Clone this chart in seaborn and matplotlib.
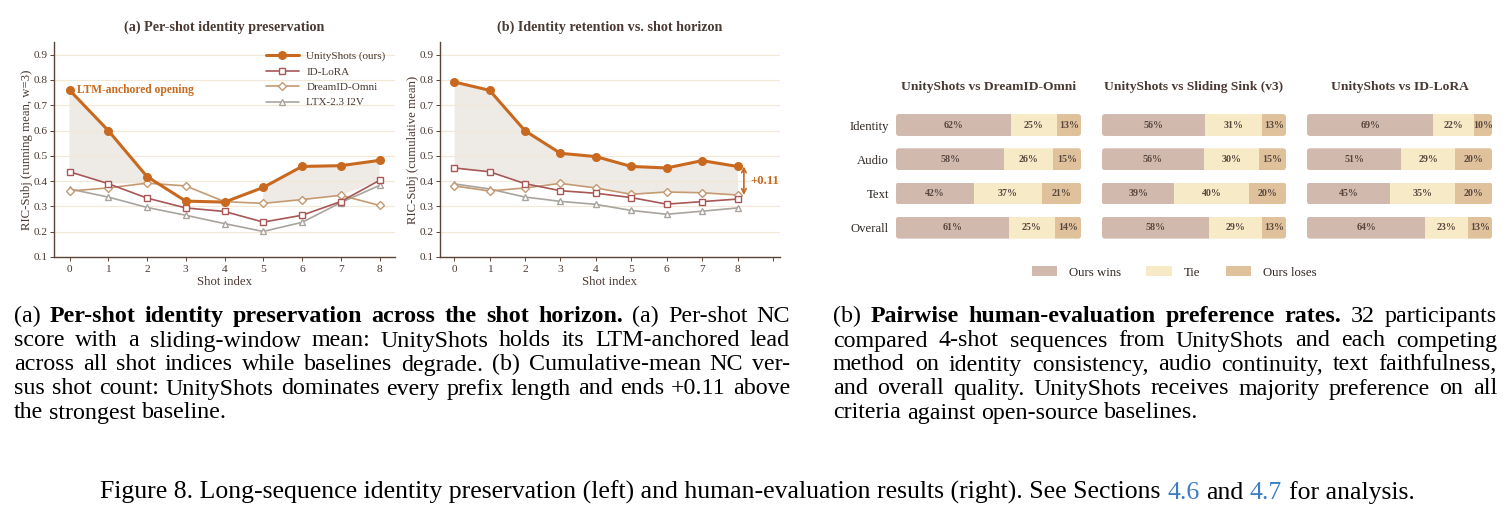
import numpy as np
import matplotlib
matplotlib.use("Agg")
import matplotlib.pyplot as plt
from matplotlib.patches import FancyBboxPatch, Patch
import seaborn as sns

# ---------------- data ----------------
shots = [0, 1, 2, 3, 4, 5, 6, 7, 8]
series_names = ["UnityShots (ours)", "ID-LoRA", "DreamID-Omni", "LTX-2.3 I2V"]

# (a) per-shot running mean
unity_run = [0.760, 0.600, 0.418, 0.321, 0.317, 0.375, 0.458, 0.461, 0.482]
idlora_run = [0.437, 0.390, 0.333, 0.294, 0.280, 0.238, 0.265, 0.319, 0.403]
dream_run = [0.361, 0.373, 0.392, 0.381, 0.319, 0.312, 0.327, 0.344, 0.304]
ltx_run = [0.369, 0.337, 0.296, 0.265, 0.232, 0.201, 0.237, 0.315, 0.383]

# (b) cumulative mean
unity_cum = [0.792, 0.759, 0.599, 0.510, 0.497, 0.458, 0.452, 0.481, 0.458]
idlora_cum = [0.452, 0.437, 0.390, 0.362, 0.352, 0.335, 0.309, 0.319, 0.329]
dream_cum = [0.381, 0.361, 0.373, 0.391, 0.373, 0.348, 0.357, 0.354, 0.345]
ltx_cum = [0.389, 0.369, 0.337, 0.320, 0.308, 0.284, 0.269, 0.281, 0.294]

y_ticks = [0.1, 0.2, 0.3, 0.4, 0.5, 0.6, 0.7, 0.8, 0.9]

# human evaluation
comparisons = ["UnityShots vs DreamID-Omni", "UnityShots vs Sliding Sink (v3)", "UnityShots vs ID-LoRA"]
criteria = ["Identity", "Audio", "Text", "Overall"]
wins = [[62, 58, 42, 61], [56, 56, 39, 58], [69, 51, 45, 64]]
ties = [[25, 26, 37, 25], [31, 30, 40, 29], [22, 29, 35, 23]]
loses = [[13, 15, 21, 14], [13, 15, 20, 13], [10, 20, 20, 13]]
outcome_names = ["Ours wins", "Tie", "Ours loses"]

# captions
cap_a = [
    [("(a)", "normal"), ("Per-shot identity preservation across the shot horizon.", "bold"), ("(a) Per-shot NC", "normal")],
    [("score with a sliding-window mean: UnityShots holds its LTM-anchored lead", "normal")],
    [("across all shot indices while baselines degrade. (b) Cumulative-mean NC ver-", "normal")],
    [("sus shot count: UnityShots dominates every prefix length and ends +0.11 above", "normal")],
    [("the strongest baseline.", "normal")],
]
cap_b = [
    [("(b)", "normal"), ("Pairwise human-evaluation preference rates.", "bold"), ("32 participants", "normal")],
    [("compared 4-shot sequences from UnityShots and each competing", "normal")],
    [("method on identity consistency, audio continuity, text faithfulness,", "normal")],
    [("and overall quality. UnityShots receives majority preference on all", "normal")],
    [("criteria against open-source baselines.", "normal")],
]
fig_caption = [("Figure 8. Long-sequence identity preservation (left) and human-evaluation results (right). See Sections", "#000000"),
               ("4.6", "#3b7dc4"), ("and", "#000000"), ("4.7", "#3b7dc4"), ("for analysis.", "#000000")]

# ---------------- style ----------------
sns.set_theme(style="white")
SERIF = "Liberation Serif"
plt.rcParams["font.family"] = [SERIF, "DejaVu Serif"]

ORANGE = "#c8691f"
RED = "#a85656"
TAN = "#c49a72"
GRAY = "#a9a49e"
SPINE = "#5a4438"
TXT = "#4a3a33"
GRID = "#f1e8d6"
FILL = "#eeeae6"
C_WIN, C_TIE, C_LOSE = "#d1b9ae", "#f6eac7", "#dfc19c"

W_PX, H_PX = 1511, 520
fig = plt.figure(figsize=(W_PX / 100, H_PX / 100), dpi=100)


def frac_box(x0, y0, x1, y1):
    return [x0 / W_PX, 1 - y1 / H_PX, (x1 - x0) / W_PX, (y1 - y0) / H_PX]


ax_a = fig.add_axes(frac_box(54, 42, 395, 257))
ax_b = fig.add_axes(frac_box(440, 42, 780, 257))

colors = [ORANGE, RED, TAN, GRAY]
markers = ["o", "s", "D", "^"]


def line_panel(ax, data, title, ylabel):
    for i, (name, vals) in enumerate(zip(series_names, data)):
        if i == 0:
            sns.lineplot(x=shots, y=vals, ax=ax, color=colors[i], lw=2.2, marker="o", ms=6.5,
                         mfc=colors[i], mec=colors[i], mew=0, zorder=5, label=name)
        else:
            sns.lineplot(x=shots, y=vals, ax=ax, color=colors[i], lw=1.2, marker=markers[i],
                         ms=4.8 if markers[i] != "D" else 4.4, mfc="white", mec=colors[i], mew=1.0,
                         zorder=4 - i * 0.1, label=name)
    top = np.array(data[0])
    base = np.max(np.array(data[1:]), axis=0)
    ax.fill_between(shots, top, base, where=top >= base, color=FILL, lw=0, zorder=0.5)
    ax.set_ylim(0.1, 0.95)
    ax.set_yticks(y_ticks)
    ax.set_yticklabels([f"{t:.1f}" for t in y_ticks])
    ax.grid(axis="y", color=GRID, lw=0.8, zorder=0)
    ax.grid(axis="x", visible=False)
    for s in ["top", "right"]:
        ax.spines[s].set_visible(False)
    for s in ["left", "bottom"]:
        ax.spines[s].set_color(SPINE)
        ax.spines[s].set_linewidth(1.0)
    ax.tick_params(axis="both", length=3, width=0.7, color=SPINE, labelcolor=TXT, labelsize=8.2,
                   direction="out", pad=2.5, bottom=True, left=True)
    ax.tick_params(axis="y", pad=1.5)
    ax.set_xlabel("Shot index", fontsize=9.2, color=TXT, labelpad=2)
    ax.set_ylabel(ylabel, fontsize=9.2, color=TXT)
    ax.yaxis.set_label_coords(-0.062, 0.5)
    ax.set_title(title, fontsize=10.2, fontweight="bold", color=TXT, pad=8)
    ax.set_axisbelow(True)


line_panel(ax_a, [unity_run, idlora_run, dream_run, ltx_run],
           "(a) Per-shot identity preservation", "RIC-Subj (running mean, w=3)")
ax_a.set_xlim(-0.4, 8.4)
ax_a.set_xticks(shots)
ax_a.text(0.2, unity_run[0], "LTM-anchored opening", color=ORANGE, fontsize=8.3, fontweight="bold",
          va="center", ha="left")
leg = ax_a.legend(loc="upper right", bbox_to_anchor=(1.0, 1.0), frameon=False, fontsize=8.0,
                  handlelength=2.9, labelspacing=0.5, borderaxespad=0.45, handletextpad=0.7)
for t in leg.get_texts():
    t.set_color(TXT)

line_panel(ax_b, [unity_cum, idlora_cum, dream_cum, ltx_cum],
           "(b) Identity retention vs. shot horizon", "RIC-Subj (cumulative mean)")
ax_b.get_legend().remove()
ax_b.set_xlim(-0.4, 9.2)
ax_b.set_xticks(shots + [9])
ax_b.set_xticklabels([str(s) for s in shots] + [""])
gap_top = unity_cum[-1]
gap_bot = max(idlora_cum[-1], dream_cum[-1], ltx_cum[-1])
ax_b.annotate("", xy=(8.18, gap_bot), xytext=(8.18, gap_top),
              arrowprops=dict(arrowstyle="<->", color=ORANGE, lw=1.2, shrinkA=0, shrinkB=0,
                              mutation_scale=8))
ax_b.text(8.36, (gap_top + gap_bot) / 2, f"+{gap_top - gap_bot:.2f}", color=ORANGE, fontsize=9.2,
          fontweight="bold", va="center", ha="left")

# ---------------- bar panels ----------------
bar_x = [(896, 1081), (1102, 1286), (1307, 1492)]
bar_h = 0.64
for p, (x0, x1) in enumerate(bar_x):
    ax = fig.add_axes(frac_box(x0, 107.9, x1, 244.8))
    ax.set_xlim(0, 100)
    ax.set_ylim(3.5, -0.5)
    px_x = 100 / (x1 - x0)
    px_y = 4 / (244.8 - 107.9)
    r = 3.2 * px_x
    for i, crit in enumerate(criteria):
        vals = [wins[p][i], ties[p][i], loses[p][i]]
        tot = sum(vals)
        clip = FancyBboxPatch((0, i - bar_h / 2), 100, bar_h,
                              boxstyle=f"round,pad=0,rounding_size={r}",
                              mutation_aspect=px_y / px_x, transform=ax.transData,
                              facecolor="none", edgecolor="none")
        ax.add_patch(clip)
        left = 0.0
        for v, c in zip(vals, [C_WIN, C_TIE, C_LOSE]):
            w = v / tot * 100
            bars = ax.barh(i, w, left=left, height=bar_h, color=c, edgecolor="none", zorder=2)
            for b in bars:
                b.set_clip_path(clip)
            ax.text(left + w / 2, i, f"{v}%", ha="center", va="center", fontsize=7.2,
                    fontweight="semibold", color="#5a4840", zorder=3)
            left += w
    ax.set_yticks(range(len(criteria)))
    if p == 0:
        ax.set_yticklabels(criteria, fontsize=9.2, color="#2e2622")
    else:
        ax.set_yticklabels([])
    ax.set_xticks([])
    ax.tick_params(axis="y", length=0, pad=5)
    for s in ax.spines.values():
        s.set_visible(False)
    ax.set_facecolor("none")
    ax.set_title(comparisons[p], fontsize=9.7, fontweight="bold", color=TXT, pad=13)

handles = [Patch(facecolor=c, edgecolor="none", label=n) for c, n in zip([C_WIN, C_TIE, C_LOSE], outcome_names)]
leg2 = fig.legend(handles=handles, loc="center", bbox_to_anchor=(1174 / W_PX, 1 - 272.5 / H_PX), ncol=3,
                  frameon=False, fontsize=9.2, handlelength=2.0, handleheight=0.8, columnspacing=2.0,
                  handletextpad=0.9)
for t in leg2.get_texts():
    t.set_color("#2e2622")

# ---------------- captions ----------------
fig.canvas.draw()
renderer = fig.canvas.get_renderer()


def measure(s, fs, weight="normal"):
    t = fig.text(0, 0, s, fontsize=fs, fontweight=weight, family=SERIF)
    w = t.get_window_extent(renderer).width
    t.remove()
    return w


def words_of(line):
    out = []
    for seg, wt in line:
        for w in seg.split():
            out.append((w, wt))
    return out


def natural_width(line, fs):
    ws = words_of(line)
    sp = measure("a a", fs) - measure("aa", fs)
    return sum(measure(w, fs, wt) for w, wt in ws) + sp * (len(ws) - 1)


def paragraph(lines, x0, x1, baselines, fs):
    sp = measure("a a", fs) - measure("aa", fs)
    for k, (line, yb) in enumerate(zip(lines, baselines)):
        ws = words_of(line)
        widths = [measure(w, fs, wt) for w, wt in ws]
        if k == len(lines) - 1:
            gap = sp
        else:
            gap = (x1 - x0 - sum(widths)) / (len(ws) - 1)
        x = x0
        for (w, wt), wd in zip(ws, widths):
            fig.text(x / W_PX, 1 - yb / H_PX, w, fontsize=fs, fontweight=wt, family=SERIF,
                     color="black", va="baseline", ha="left")
            x += wd + gap


base_fs = 10.0
ratio_a = max(natural_width(l, base_fs) for l in cap_a[:-1]) / (790 - 14)
ratio_b = max(natural_width(l, base_fs) for l in cap_b[:-1]) / (1497 - 833)
cap_fs = min(base_fs / max(ratio_a, ratio_b) * 0.985, 17.5)

baselines = [322, 346.5, 370.5, 394.5, 418.5]
paragraph(cap_a, 14, 790, baselines, cap_fs)
paragraph(cap_b, 833, 1497, baselines, cap_fs)


# figure caption, centered, sized to span the same width as the reference line
def caption_width(fs):
    sp_ = measure("a a", fs) - measure("aa", fs)
    return sum(measure(s, fs) for s, _ in fig_caption) + sp_ * (len(fig_caption) - 1)


fig_fs = min(base_fs * (1440 - 75) / caption_width(base_fs), 18.5)
sp = measure("a a", fig_fs) - measure("aa", fig_fs)
segs = [(s, c, measure(s, fig_fs)) for s, c in fig_caption]
total = sum(w for _, _, w in segs) + sp * (len(segs) - 1)
x = 757.5 - total / 2
for s, c, w in segs:
    fig.text(x / W_PX, 1 - 499 / H_PX, s, fontsize=fig_fs, family=SERIF, color=c, va="baseline", ha="left")
    x += w + sp

fig.savefig("out.png", dpi=100, facecolor="white")
